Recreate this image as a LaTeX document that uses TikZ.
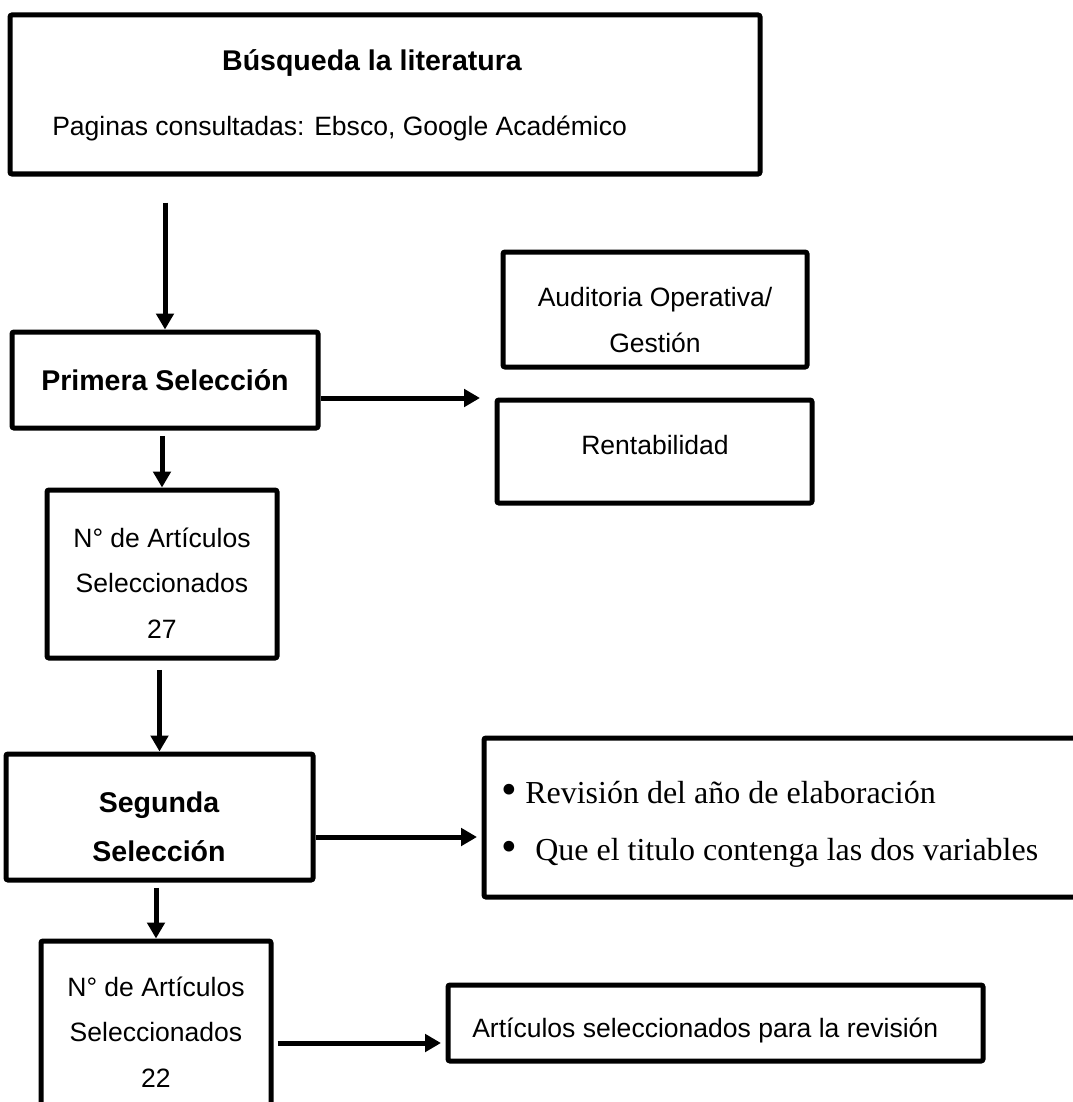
\documentclass[tikz,border=0pt]{standalone}
\usepackage{fontspec}
\setmainfont{Liberation Sans}
\newfontfamily\serifa{Liberation Serif}
\usetikzlibrary{arrows.meta}

\newcommand{\vineta}{\raisebox{-0.8pt}{\scalebox{1.4}{\textbullet}}}

\tikzset{
  caja/.style={draw, line width=3.75pt, rounded corners=1.5pt, inner sep=0pt},
  flecha/.style={line width=3.75pt, -{Triangle[length=12pt,width=13pt]}},
  texto/.style={inner sep=0pt, align=center, font=\fontsize{19.9}{34}\selectfont},
  negrita/.style={inner sep=0pt, align=center, font=\fontsize{21.4}{36.75}\selectfont\bfseries},
  lista/.style={inner sep=0pt, anchor=west, font=\serifa\fontsize{24}{28}\selectfont}
}

\begin{document}
\begin{tikzpicture}[x=0.75pt,y=0.75pt,yscale=-1,xscale=1]
\useasboundingbox (0,0) rectangle (1073,1102);

\node[caja, minimum width=562.5pt, minimum height=119.25pt] (busq) at (385,94.5) {};
\node[caja, minimum width=229.5pt, minimum height=72pt] (prim) at (165,380) {};
\node[caja, minimum width=228pt, minimum height=86.25pt] (audit) at (655,309.5) {};
\node[caja, minimum width=236.25pt, minimum height=77.25pt] (rent) at (654.5,451.5) {};
\node[caja, minimum width=172.5pt, minimum height=126pt] (art27) at (162,574) {};
\node[caja, minimum width=230.25pt, minimum height=94.5pt] (seg) at (159.5,817) {};
\node[caja, minimum width=462pt, minimum height=119.25pt] (crit) at (792,817.5) {};
\node[caja, minimum width=172.5pt, minimum height=134.25pt] (art22) at (156,1030.5) {};
\node[caja, minimum width=401.25pt, minimum height=57pt] (final) at (715.5,1023) {};

\node[negrita] (busqtit) at (372,63) {Búsqueda la literatura};
\node[texto, anchor=west] (busqpag) at (52,128) {Paginas consultadas: Ebsco, Google Académico};
\node[negrita] (primtxt) at (prim.center) {Primera Selección};
\node[texto] (audittxt) at (655,320) {Auditoria Operativa/\\Gestión};
\node[texto] (renttxt) at (655,445) {Rentabilidad};
\node[texto] (art27txt) at (162,583) {N° de Artículos\\Seleccionados\\27};
\node[negrita] (segtxt) at (159,826.5) {Segunda\\Selección};
\node[lista] (crit1) at (501,793) {\makebox[18pt][l]{\vineta}Revisión del año de elaboración};
\node[lista] (crit2) at (501,853) {\makebox[25.5pt][l]{\vineta}Que el titulo contenga las dos variables};
\node[texto] (art22txt) at (156,1032) {N° de Artículos\\Seleccionados\\22};
\node[texto, anchor=west] (finaltxt) at (472,1030) {Artículos seleccionados para la revisión};

\coordinate (p1) at (480,398);
\coordinate (p2) at (477,837);
\coordinate (p3) at (441,1043);

\draw[flecha] ([yshift=19.5pt]busq.south -| prim.north) -- (prim.north);
\draw[flecha] (prim.east |- p1) -- (p1);
\draw[flecha] ([yshift=4pt]prim.south -| art27.north) -- (art27.north);
\draw[flecha] ([yshift=7pt]art27.south -| seg.north) -- (seg.north);
\draw[flecha] (seg.east |- p2) -- (p2);
\draw[flecha] ([yshift=4pt]seg.south -| art22.north) -- (art22.north);
\draw[flecha] ([xshift=3pt]art22.east |- p3) -- (p3);

\end{tikzpicture}
\end{document}
